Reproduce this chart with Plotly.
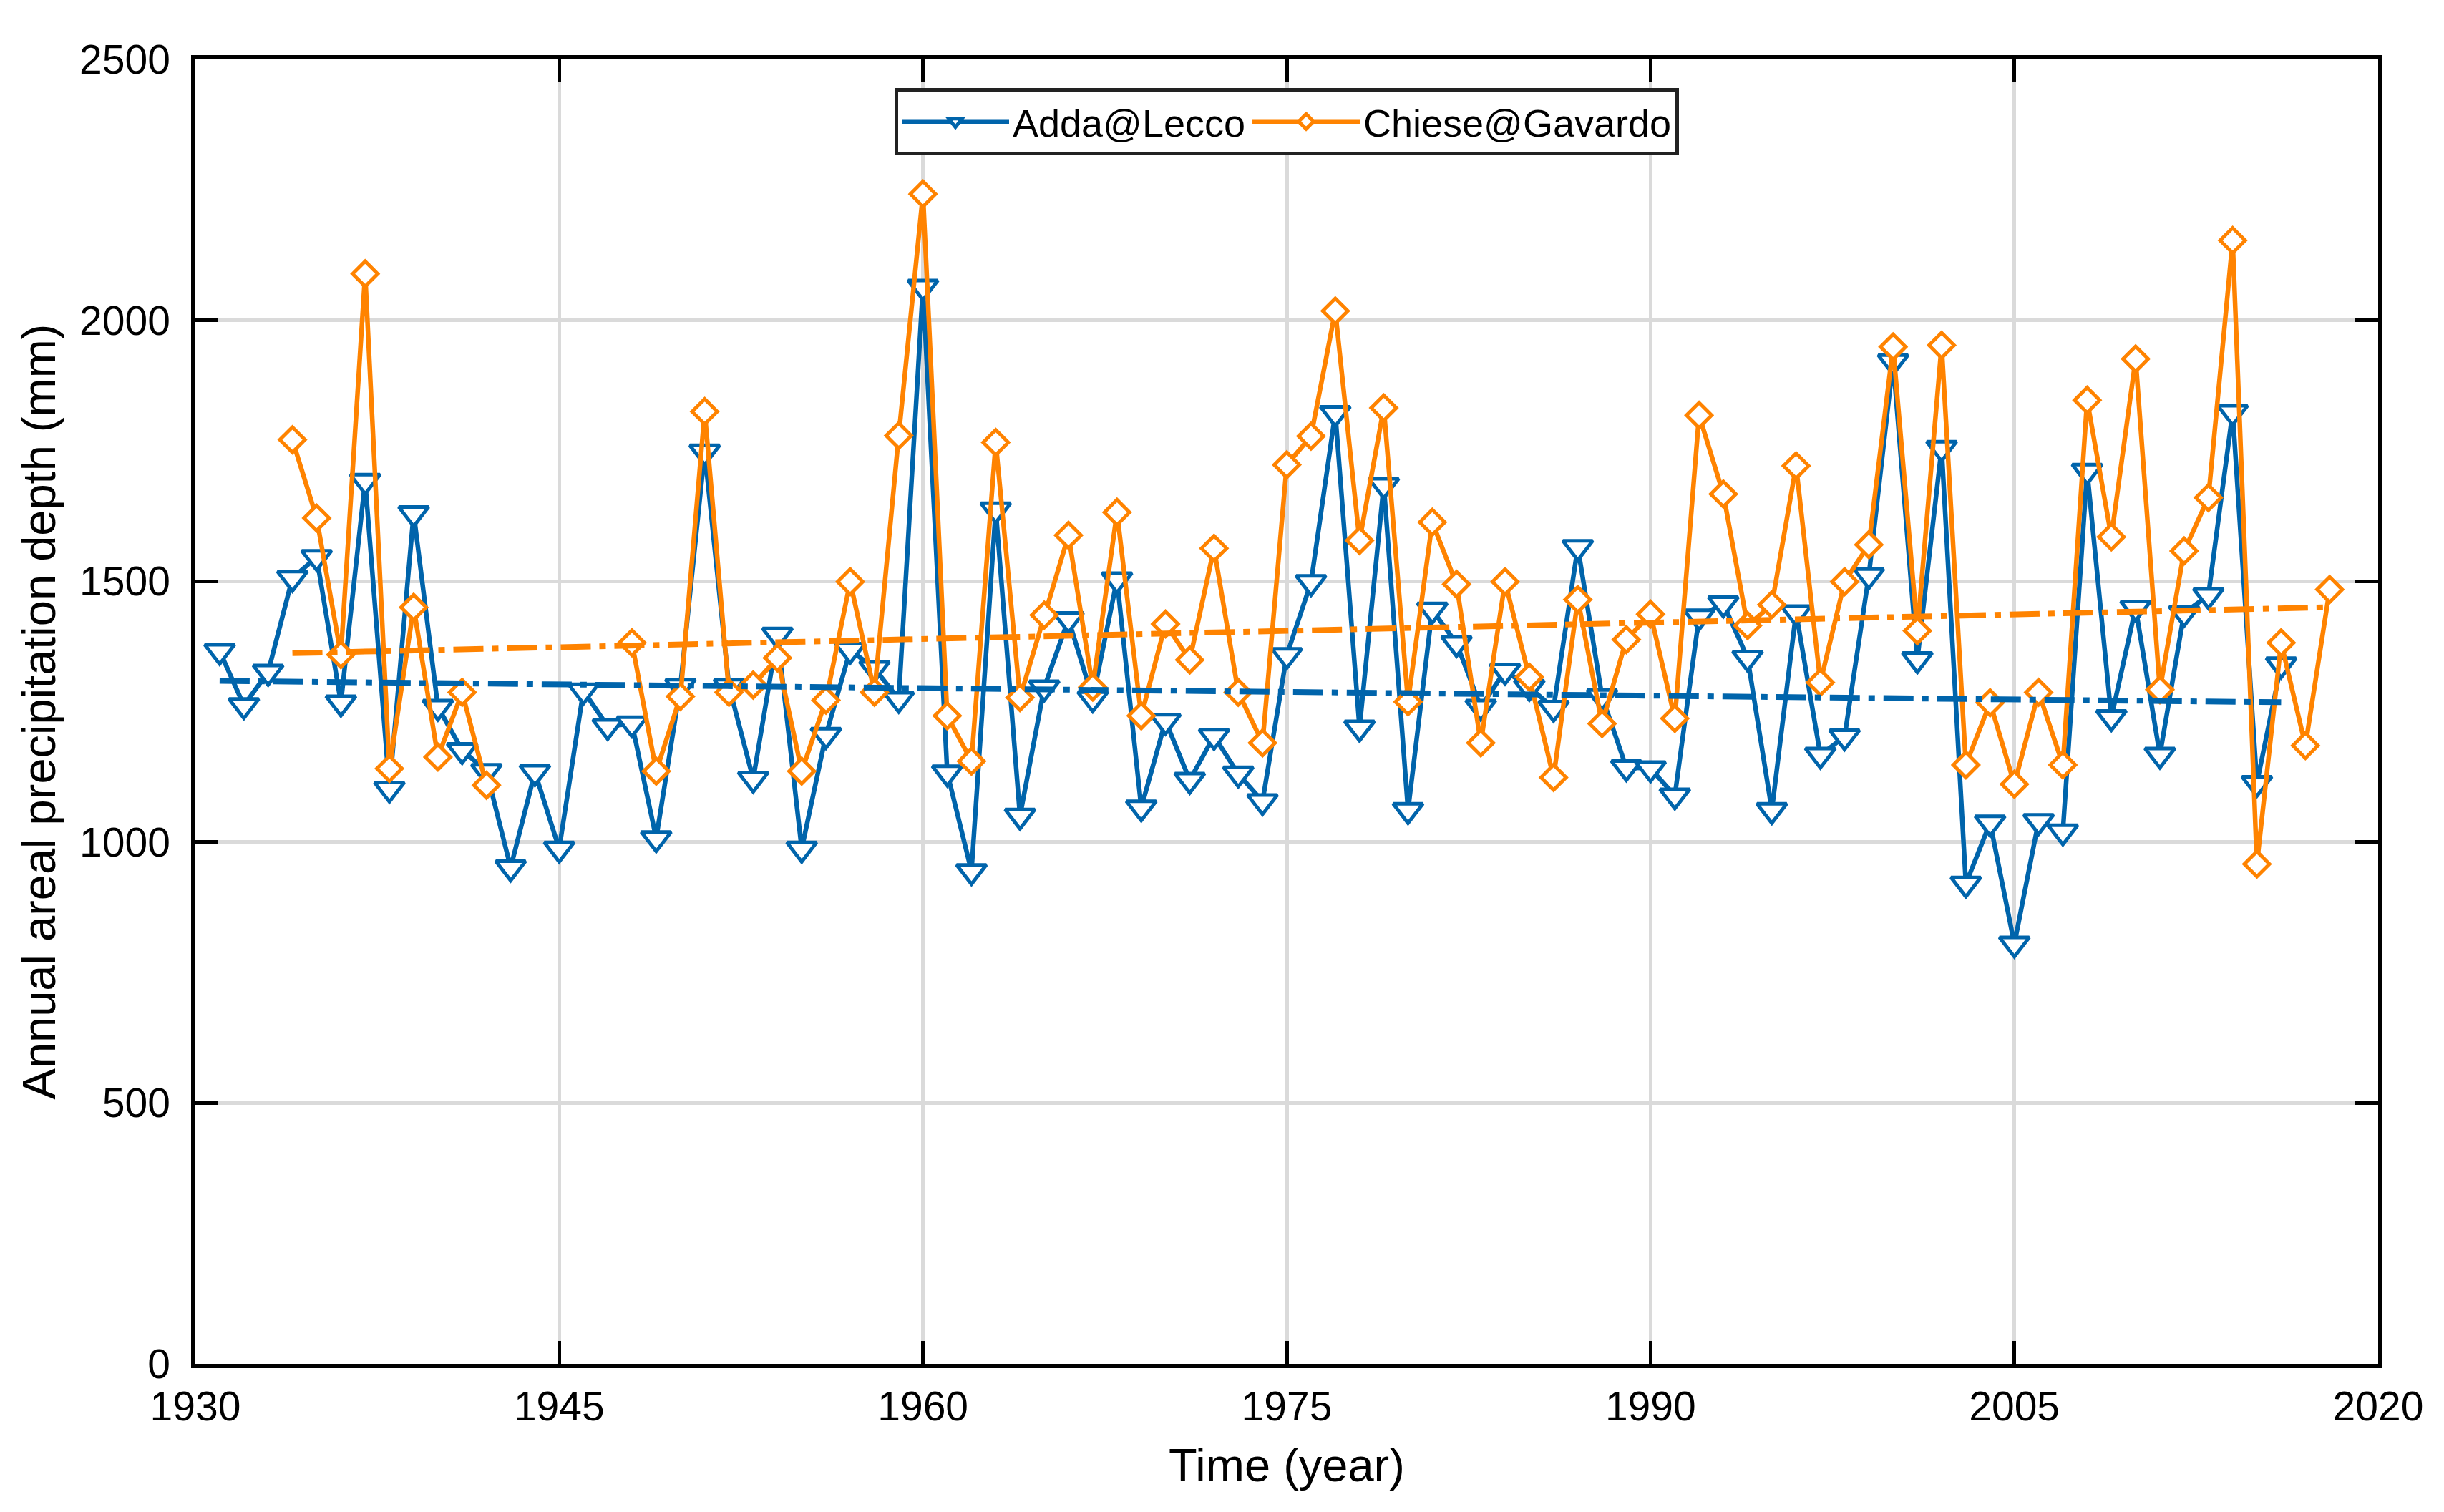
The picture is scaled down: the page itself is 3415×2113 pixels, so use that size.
import plotly.graph_objects as go

# ---------------- data ----------------
adda_years = list(range(1931, 2017))
adda_values = [
    1366, 1262, 1326, 1506, 1546, 1267, 1692, 1102, 1630, 1259,   # 1931-1940
    1176, 1136, 951, 1134, 987, 1290, 1222, 1227, 1007, 1299,     # 1941-1950
    1748, 1299, 1121, 1397, 987, 1205, 1368, 1333, 1274, 2064,    # 1951-1960
    1133, 944, 1637, 1050, 1296, 1427, 1275, 1503, 1066, 1232,    # 1961-1970
    1119, 1203, 1131, 1078, 1358, 1498, 1822, 1219, 1684, 1061,   # 1971-1980
    1445, 1381, 1259, 1328, 1297, 1257, 1565, 1279, 1143, 1141,   # 1981-1990
    1089, 1432, 1457, 1353, 1061, 1440, 1167, 1202, 1511, 1921,   # 1991-2000
    1350, 1755, 920, 1037, 805, 1040, 1020, 1711, 1239, 1449,     # 2001-2010
    1167, 1439, 1473, 1824, 1113, 1340,                           # 2011-2016
]

chiese_years = list(range(1934, 2019))
chiese_values = [
    1771, 1621, 1359, 2089, 1141, 1450, 1163, 1287, 1109,          # 1934-1942
    None, None, None, None, None,                                  # 1943-1947 (missing)
    1382, 1136, 1279, 1825, 1287, 1301, 1353, 1136, 1272, 1499,    # 1948-1957
    1287, 1779, 2242, 1242, 1155, 1766, 1277, 1435, 1588, 1297,    # 1958-1967
    1632, 1242, 1418, 1349, 1563, 1287, 1190, 1723, 1778, 2018,    # 1968-1977
    1578, 1832, 1269, 1613, 1494, 1190, 1499, 1316, 1124, 1465,    # 1978-1987
    1227, 1388, 1437, 1237, 1818, 1667, 1415, 1455, 1721, 1306,    # 1988-1997
    1499, 1570, 1949, 1405, 1952, 1148, 1267, 1111, 1287, 1148,    # 1998-2007
    1847, 1585, 1926, 1292, 1558, 1660, 2153, 958, 1382, 1185,     # 2008-2017
    1484,                                                          # 2018
]

# linear trend lines (end points)
adda_trend_years = [1931, 2016]
adda_trend_values = [1309, 1268]
chiese_trend_years = [1934, 2018]
chiese_trend_values = [1362, 1450]

x_ticks = [1930, 1945, 1960, 1975, 1990, 2005, 2020]
y_ticks = [0, 500, 1000, 1500, 2000, 2500]

series_names = ["Adda@Lecco", "Chiese@Gavardo"]

# ---------------- style ----------------
BLUE = "#0064AB"
ORANGE = "#FF8300"
FONT = "Liberation Sans, Arial, sans-serif"

fig = go.Figure()

fig.add_trace(go.Scatter(
    x=adda_years, y=adda_values, name=series_names[0],
    mode="lines+markers",
    line=dict(color=BLUE, width=6.5),
    marker=dict(symbol="triangle-down", size=36, color="white",
                line=dict(color=BLUE, width=5)),
    connectgaps=False,
))
fig.add_trace(go.Scatter(
    x=chiese_years, y=chiese_values, name=series_names[1],
    mode="lines+markers",
    line=dict(color=ORANGE, width=6.5),
    marker=dict(symbol="diamond", size=27, color="white",
                line=dict(color=ORANGE, width=5)),
    connectgaps=False,
))
fig.add_trace(go.Scatter(
    x=adda_trend_years, y=adda_trend_values, mode="lines", showlegend=False,
    line=dict(color=BLUE, width=8, dash="42px,12px,9px,12px"),
    hoverinfo="skip",
))
fig.add_trace(go.Scatter(
    x=chiese_trend_years, y=chiese_trend_values, mode="lines", showlegend=False,
    line=dict(color=ORANGE, width=8, dash="42px,12px,9px,12px"),
    hoverinfo="skip",
))

axis_common = dict(
    showline=True, linecolor="black", linewidth=5.5, mirror="ticks",
    ticks="inside", ticklen=32, tickwidth=5, tickcolor="black",
    showgrid=True, gridcolor="rgb(218,218,218)", gridwidth=4.5,
    zeroline=False,
    tickfont=dict(family=FONT, size=57, color="black"),
    title_font=dict(family=FONT, size=65, color="black"),
)

fig.update_xaxes(
    range=[1930, 2020], tickvals=x_ticks, ticktext=[str(v) for v in x_ticks],
    title_text="Time (year)", title_standoff=30, ticklabelstandoff=5,
    **axis_common,
)
fig.update_yaxes(
    range=[0, 2500], tickvals=y_ticks, ticktext=[str(v) for v in y_ticks],
    title_text="Annual areal precipitation depth (mm)", title_standoff=14,
    ticklabelstandoff=18,
    **axis_common,
)

fig.update_layout(
    width=3415, height=2113, autosize=False,
    paper_bgcolor="white", plot_bgcolor="white",
    margin=dict(l=265, r=100, t=75, b=215),
    font=dict(family=FONT, color="black"),
    legend=dict(
        orientation="h", x=0.5, xanchor="center", y=0.978, yanchor="top",
        bgcolor="white", bordercolor="#222222", borderwidth=5,
        font=dict(family=FONT, size=54, color="black"),
        itemwidth=150, tracegroupgap=0,
    ),
    showlegend=True,
)

fig.write_html("out.html")
